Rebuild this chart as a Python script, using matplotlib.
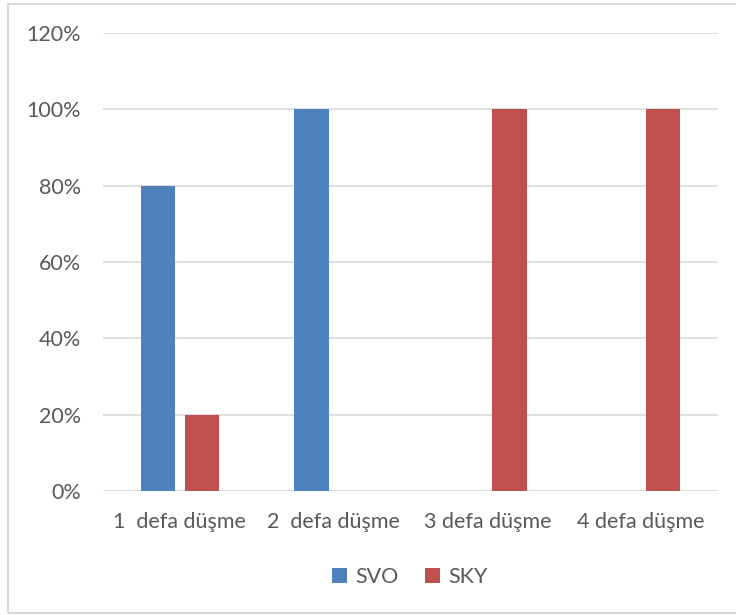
import numpy as np
import matplotlib.pyplot as plt
from matplotlib.patches import Rectangle

plt.rcParams['font.family'] = ['Lato', 'DejaVu Sans']

categories = ['1  defa düşme', '2  defa düşme', '3 defa düşme', '4 defa düşme']
svo = [80, 100, 0, 0]
sky = [20, 0, 100, 100]
yticks = [0, 20, 40, 60, 80, 100, 120]

text_col = '#595959'
grid_col = '#D9D9D9'

fig = plt.figure(figsize=(7.36, 6.15), dpi=100)
ax = fig.add_axes([103 / 736, 1 - 491 / 615, 615 / 736, 458 / 615])

x = np.arange(len(categories))
w = 0.223
off = 0.144
ax.bar(x - off, svo, w, color='#4F81BD', label='SVO', zorder=3)
ax.bar(x + off, sky, w, color='#C0504D', label='SKY', zorder=3)

ax.set_xlim(-0.5, len(categories) - 0.5)
ax.set_ylim(0, 120)
ax.set_yticks(yticks)
ax.set_yticklabels([f'{v}%' for v in yticks])
ax.set_xticks(x)
ax.set_xticklabels(categories)
ax.tick_params(axis='both', length=0, labelsize=15.5, colors=text_col)
ax.tick_params(axis='y', pad=16)
ax.tick_params(axis='x', pad=15)
ax.yaxis.grid(True, color=grid_col, linewidth=1.2, zorder=0)
for s in ax.spines.values():
    s.set_visible(False)

leg = fig.legend(loc='center', bbox_to_anchor=(410 / 736, 1 - 577 / 615), ncol=2,
                 frameon=False, fontsize=15.5, handlelength=0.7, handleheight=0.7,
                 handletextpad=0.4, columnspacing=1.2)
for t in leg.get_texts():
    t.set_color(text_col)

fig.patches.append(Rectangle((8 / 736, 1 - 613 / 615), 740 / 736, 609 / 615,
                             transform=fig.transFigure, fill=False,
                             edgecolor='#D9D9D9', linewidth=1.5))

fig.savefig('out.png', dpi=100)
